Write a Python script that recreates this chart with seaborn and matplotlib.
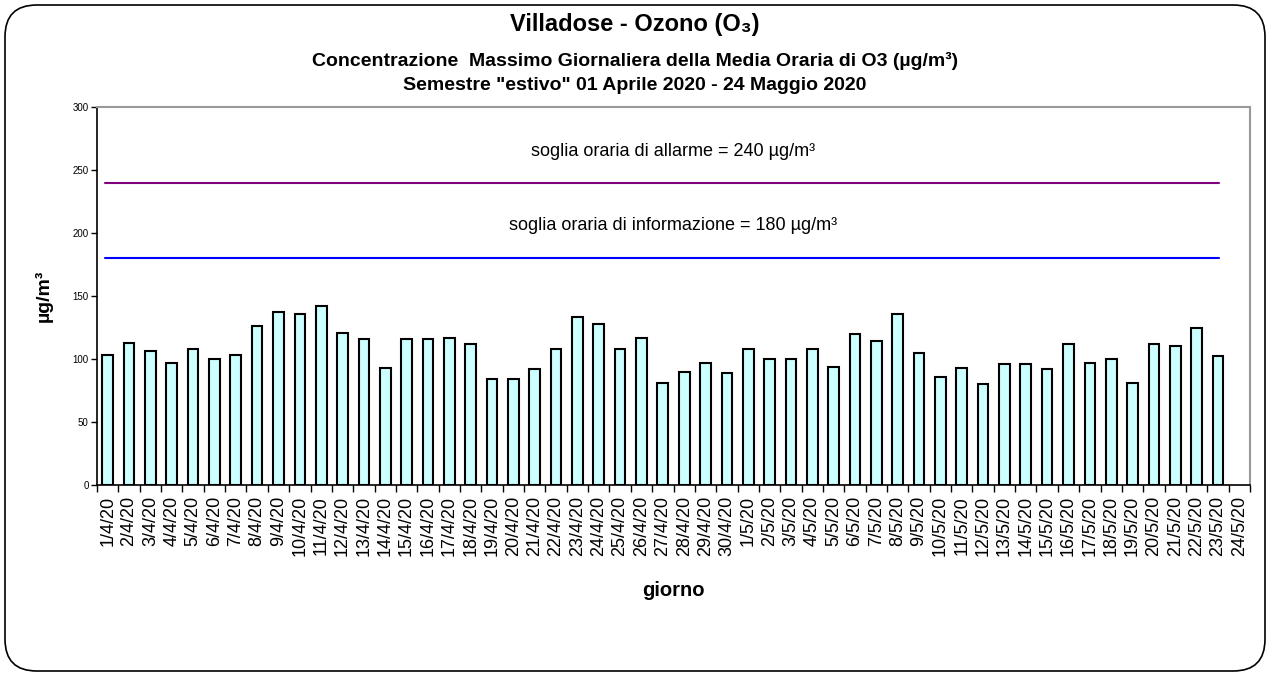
import numpy as np
import pandas as pd
import matplotlib
matplotlib.use("Agg")
import matplotlib.pyplot as plt
import seaborn as sns
from matplotlib.patches import FancyBboxPatch
from matplotlib.ticker import FixedLocator, NullFormatter

days = [f"{d}/4/20" for d in range(1, 31)] + [f"{d}/5/20" for d in range(1, 25)]
values = [103, 113, 106, 97, 108, 100, 103, 126, 137, 136,
          142, 121, 116, 93, 116, 116, 117, 112, 84, 84,
          92, 108, 133, 128, 108, 117, 81, 90, 97, 89,
          108, 100, 100, 108, 94, 120, 114, 136, 105, 86,
          93, 80, 96, 96, 92, 112, 97, 100, 81, 112,
          110, 125, 102, np.nan]
soglia_allarme = 240
soglia_informazione = 180
title = "Villadose - Ozono (O\u2083)"
subtitle1 = "Concentrazione  Massimo Giornaliera della Media Oraria di O3 (\u00b5g/m\u00b3)"
subtitle2 = "Semestre \"estivo\" 01 Aprile 2020 - 24 Maggio 2020"

df = pd.DataFrame({"giorno": days, "valore": values})

sns.set_style("white")
plt.rcParams['font.family'] = ['Liberation Sans', 'DejaVu Sans']
plt.rcParams['text.color'] = 'black'
plt.rcParams['axes.labelcolor'] = 'black'
plt.rcParams['xtick.color'] = 'black'
plt.rcParams['ytick.color'] = 'black'

fig = plt.figure(figsize=(12.7, 6.74), dpi=100)
W, H = 1270, 674
ax = fig.add_axes([97 / W, 1 - 485 / H, (1250 - 97) / W, (485 - 107) / H])

sns.barplot(data=df, x="giorno", y="valore", ax=ax, color="#CCFFFF",
            edgecolor="black", linewidth=1.5, width=0.5, saturation=1,
            order=days)

ax.set_xlim(-0.5, len(days) - 0.5)
ax.set_ylim(0, 300)
ax.set_yticks([0, 50, 100, 150, 200, 250, 300])

ax.axhline(soglia_allarme, xmin=0.007, xmax=0.973, color="#800080", lw=1.5)
ax.axhline(soglia_informazione, xmin=0.007, xmax=0.973, color="#0000FF", lw=1.5)

ax.text(0.5, 265, f"soglia oraria di allarme = {soglia_allarme} \u00b5g/m\u00b3",
        transform=ax.get_yaxis_transform(), ha="center", va="center", fontsize=13)
ax.text(0.5, 206, f"soglia oraria di informazione = {soglia_informazione} \u00b5g/m\u00b3",
        transform=ax.get_yaxis_transform(), ha="center", va="center", fontsize=13)

# spines
for s in ["left", "bottom"]:
    ax.spines[s].set_color("black")
    ax.spines[s].set_linewidth(1.2)
for s in ["top", "right"]:
    ax.spines[s].set_color("#999999")
    ax.spines[s].set_linewidth(1.5)

ax.tick_params(axis="y", direction="out", length=4, width=1, labelsize=7, pad=2, left=True)
ax.tick_params(axis="x", which="major", length=0, labelsize=13, pad=8, rotation=90)
ax.xaxis.set_minor_locator(FixedLocator(np.arange(-0.5, len(days), 1.0)))
ax.xaxis.set_minor_formatter(NullFormatter())
ax.tick_params(axis="x", which="minor", direction="out", length=5, width=1, bottom=True)
for lbl in ax.get_xticklabels():
    lbl.set_va("top")

ax.set_xlabel("giorno", fontsize=14.5, fontweight="bold", labelpad=18)
ax.set_ylabel("\u00b5g/m\u00b3", fontsize=14, fontweight="bold", labelpad=14)

fig.text(0.5, 1 - 25 / H, title, ha="center", va="center", fontsize=17, fontweight="bold")
fig.text(0.5, 1 - 61 / H, subtitle1, ha="center", va="center", fontsize=14, fontweight="bold")
fig.text(0.5, 1 - 86 / H, subtitle2, ha="center", va="center", fontsize=14, fontweight="bold")

box = FancyBboxPatch((5 / W, 3 / H), 1 - 10 / W, 1 - 8 / H,
                     boxstyle="round,pad=0,rounding_size=0.025",
                     transform=fig.transFigure, fill=False, edgecolor="black",
                     linewidth=1.2, mutation_aspect=W / H)
fig.patches.append(box)

fig.savefig("out.png", dpi=100)
